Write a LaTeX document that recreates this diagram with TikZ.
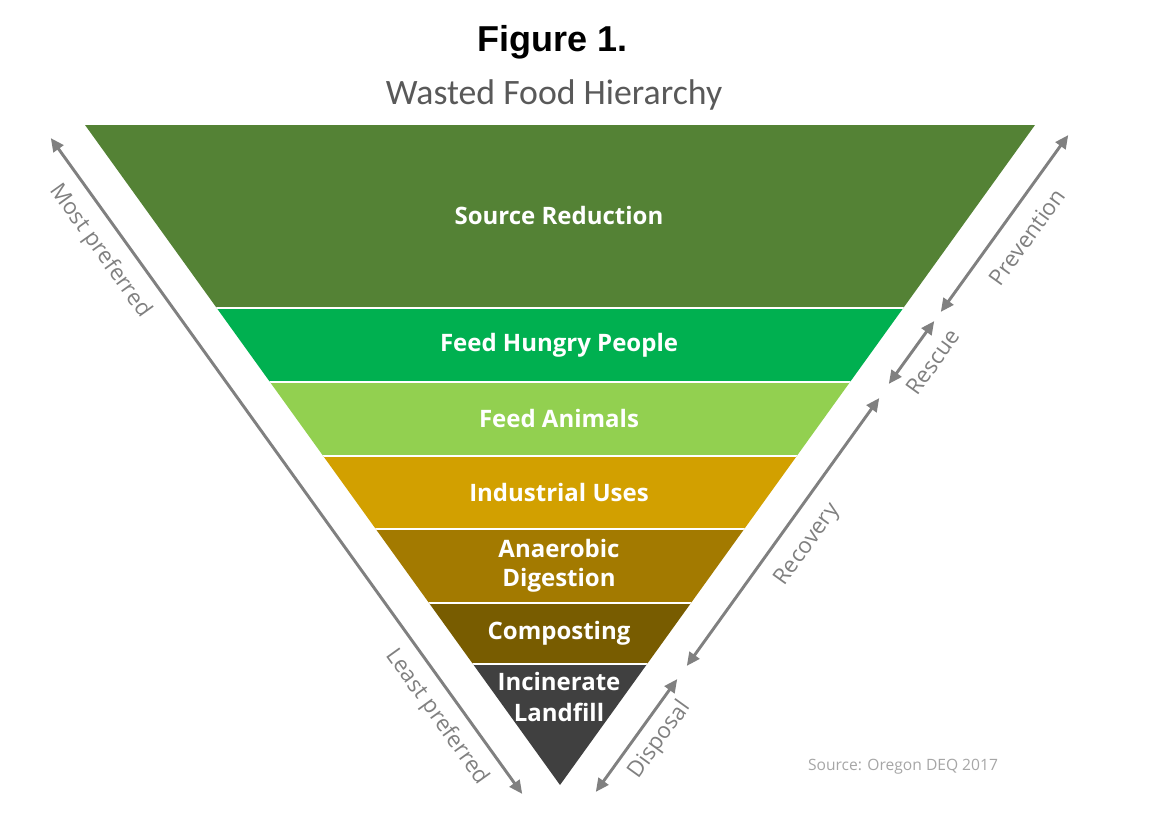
\documentclass[tikz,border=0pt]{standalone}
\usepackage{fontspec}
\setmainfont{Open Sans}
\newfontfamily\figfont{Liberation Sans}
\newfontfamily\subfont{Carlito}
\usetikzlibrary{arrows.meta}

\definecolor{reduction}{RGB}{84,130,53}
\definecolor{hungry}{RGB}{0,176,80}
\definecolor{animals}{RGB}{146,208,80}
\definecolor{industrial}{RGB}{210,160,0}
\definecolor{anaerobic}{RGB}{163,122,0}
\definecolor{composting}{RGB}{120,92,0}
\definecolor{landfill}{RGB}{64,64,64}
\definecolor{sidegray}{RGB}{128,128,128}

\begin{document}
\begin{tikzpicture}[x=0.75pt, y=-0.75pt,
    band/.style={font=\fontsize{18}{22}\selectfont\bfseries, text=white, align=center},
    side/.style={{Triangle[length=10pt,width=9pt]}-{Triangle[length=10pt,width=9pt]},
                 sidegray, line width=2.2pt, shorten <=1pt, shorten >=1pt},
    sidelabel/.style={font=\fontsize{16.8}{18}\selectfont, text=sidegray}
  ]
    \useasboundingbox (0,0) rectangle (1162,837);

    % title
    \node[font=\figfont\fontsize{27}{30}\selectfont\bfseries] (title) at (553,42) {Figure 1.};
    \node[font=\subfont\fontsize{26.8}{30}\selectfont, text=black!65] (subtitle) at (554,95) {Wasted Food Hierarchy};

    % the inverted triangle, cut into bands
    \begin{scope}
      \clip (85,125) -- (1035,125) -- (560,785) -- cycle;
      \fill[reduction]  (0,125) rectangle (1162,308);
      \fill[hungry]     (0,308) rectangle (1162,382);
      \fill[animals]    (0,382) rectangle (1162,456);
      \fill[industrial] (0,456) rectangle (1162,529);
      \fill[anaerobic]  (0,529) rectangle (1162,603);
      \fill[composting] (0,603) rectangle (1162,664);
      \fill[landfill]   (0,664) rectangle (1162,837);
      \foreach \y in {308,382,456,529,603,664}
        \draw[white, line width=1.2pt] (0,\y) -- (1162,\y);
    \end{scope}

    \node[band] (src)  at (559,216) {Source Reduction};
    \node[band] (hung) at (559,345) {Feed Hungry People};
    \node[band] (anim) at (559,418) {Feed Animals};
    \node[band] (ind)  at (559,492) {Industrial Uses};
    \node[band] (anae) at (559,566) {Anaerobic\\Digestion};
    \node[band] (comp) at (559,633) {Composting};
    \node[band, font=\fontsize{18}{23.5}\selectfont\bfseries] (inc) at (559,697) {Incinerate\\Landfill};

    % left arrow
    \coordinate (most)  at (50,137);
    \coordinate (least) at (523,795);
    \draw[side] (most) -- (least);
    \node[sidelabel, rotate=-54.3] (mostlbl)  at (100,251) {Most preferred};
    \node[sidelabel, rotate=-54.3] (leastlbl) at (437,717) {Least preferred};

    % right arrows
    \coordinate (prev1) at (1069,134);
    \coordinate (prev2) at (940,313);
    \coordinate (resc1) at (935,320);
    \coordinate (resc2) at (888,385);
    \coordinate (reco1) at (880,397);
    \coordinate (reco2) at (686,667);
    \coordinate (disp1) at (678,678);
    \coordinate (disp2) at (595,793);
    \draw[side] (prev1) -- (prev2);
    \draw[side] (resc1) -- (resc2);
    \draw[side] (reco1) -- (reco2);
    \draw[side] (disp1) -- (disp2);
    \node[sidelabel, rotate=54.3] (prevlbl) at (1027,237) {Prevention};
    \node[sidelabel, rotate=54.3] (resclbl) at (933,362) {Rescue};
    \node[sidelabel, rotate=54.3] (recolbl) at (808,545) {Recovery};
    \node[sidelabel, rotate=54.3] (displbl) at (660,740) {Disposal};

    \node[font=\fontsize{11.7}{13}\selectfont, text=black!35] (source) at (903,767) {Source: Oregon DEQ 2017};
  \end{tikzpicture}
\end{document}
